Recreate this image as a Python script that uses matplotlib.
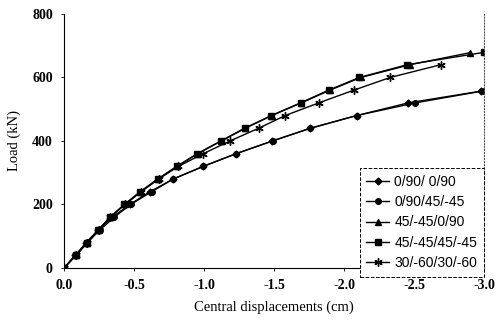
import matplotlib
matplotlib.use("Agg")
import matplotlib.pyplot as plt

plt.rcParams['font.family'] = ['Liberation Serif', 'DejaVu Serif']

loads_low = [0, 40, 80, 120, 160, 200, 240, 280, 320, 360, 400, 440, 480, 520, 557]
x_d = [0, -0.082, -0.158, -0.245, -0.345, -0.47, -0.614, -0.78, -0.995, -1.23, -1.488, -1.76, -2.09, -2.46, -2.98]
x_c = [0, -0.084, -0.167, -0.257, -0.36, -0.476, -0.626, -0.779, -0.995, -1.23, -1.49, -1.76, -2.09, -2.51, -3.0]
loads_c = [0, 40, 80, 120, 160, 200, 240, 280, 320, 360, 400, 440, 480, 520, 558]

x_sq = [0, -0.086, -0.167, -0.245, -0.329, -0.431, -0.543, -0.669, -0.805, -0.952, -1.12, -1.29, -1.48, -1.69, -1.89, -2.11, -2.45, -3.0]
loads_sq = [0, 40, 80, 120, 160, 200, 240, 280, 320, 360, 400, 440, 480, 520, 560, 600, 640, 679]
x_tr = [0, -0.085, -0.165, -0.25, -0.33, -0.435, -0.55, -0.672, -0.81, -0.955, -1.125, -1.295, -1.485, -1.695, -1.9, -2.12, -2.47, -2.9]
loads_tr = [0, 40, 80, 120, 160, 200, 240, 280, 320, 360, 400, 440, 480, 520, 560, 600, 640, 678]
x_st = [0, -0.086, -0.167, -0.25, -0.33, -0.435, -0.55, -0.675, -0.817, -0.995, -1.186, -1.39, -1.58, -1.82, -2.07, -2.33, -2.69]
loads_st = [0, 40, 80, 120, 160, 200, 240, 280, 320, 360, 400, 440, 480, 520, 560, 600, 640]

labels = ['0/90/ 0/90', '0/90/45/-45', '45/-45/0/90', '45/-45/45/-45', '30/-60/30/-60']

fig = plt.figure(figsize=(4.96, 3.24), dpi=100)
ax = fig.add_axes([0.129, 0.173, 0.847, 0.784])

kw = dict(color='black', lw=1.0, ms=4)
ax.plot(x_d, loads_low, marker='D', ms=3.5, color='black', lw=1.0, label=labels[0])
ax.plot(x_c, loads_c, marker='o', **kw, label=labels[1])
ax.plot(x_tr, loads_tr, marker='^', **kw, label=labels[2])
ax.plot(x_sq, loads_sq, marker='s', **kw, label=labels[3])
ax.plot(x_st, loads_st, marker=(6, 2, 0), mew=1.0, color='black', lw=1.0, ms=6, label=labels[4])

ax.set_xlim(0, -3.0)
ax.set_ylim(0, 800)
ax.set_xticks([0, -0.5, -1.0, -1.5, -2.0, -2.5, -3.0])
ax.set_xticklabels(['0.0', '-0.5', '-1.0', '-1.5', '-2.0', '-2.5', '-3.0'])
ax.set_yticks([0, 200, 400, 600, 800])
ax.tick_params(axis='both', labelsize=10, length=2, width=0.6, pad=6)
for t in ax.get_xticklabels() + ax.get_yticklabels():
    t.set_fontweight('bold')

ax.spines['top'].set_visible(False)
ax.spines['right'].set_linestyle(':')
ax.spines['right'].set_linewidth(0.8)
ax.spines['right'].set_color('#555555')
ax.spines['left'].set_linewidth(0.8)
ax.spines['bottom'].set_linewidth(0.8)

ax.set_xlabel('Central displacements (cm)', fontsize=10.5, labelpad=6)
ax.set_ylabel('Load (kN)', fontsize=10.5, labelpad=8)

leg = ax.legend(loc='lower right', bbox_to_anchor=(1.0, -0.035),
                prop={'family': ['Liberation Sans', 'DejaVu Sans'], 'size': 10},
                frameon=True, fancybox=False,
                borderaxespad=0.0, handlelength=1.6, handletextpad=0.4,
                labelspacing=0.45, borderpad=0.5)
fr = leg.get_frame()
fr.set_edgecolor('black')
fr.set_linestyle('--')
fr.set_linewidth(0.7)
fr.set_alpha(1.0)

fig.savefig('out.png', dpi=100)
